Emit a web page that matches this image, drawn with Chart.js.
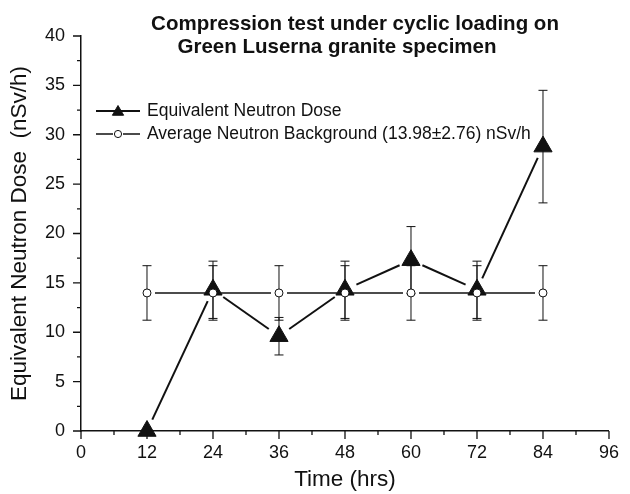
<!DOCTYPE html>
<html>
<head>
<meta charset="utf-8">
<script src="https://cdn.jsdelivr.net/npm/chart.js@4.4.1/dist/chart.umd.min.js"></script>
<style>
  html, body { margin: 0; padding: 0; background: #fff; }
  #wrap { width: 630px; height: 494px; }
</style>
</head>
<body>
<div id="wrap"><canvas id="chart"></canvas></div>
<script>
// Data
const hours = [12, 24, 36, 48, 60, 72, 84];
const doseValues = [0, 14.3, 9.6, 14.3, 17.3, 14.3, 28.8];
const doseErrors = [0, 2.9, 1.9, 2.9, 3.4, 2.9, 5.7];
const backgroundValues = [13.98, 13.98, 13.98, 13.98, 13.98, 13.98, 13.98];
const backgroundErrors = [2.76, 2.76, 2.76, 2.76, 2.76, 2.76, 2.76];
const xTicks = [0, 12, 24, 36, 48, 60, 72, 84, 96];
const yTicks = [0, 5, 10, 15, 20, 25, 30, 35, 40];
const titleLines = ['Compression test under cyclic loading on', 'Green Luserna granite specimen'];
const seriesNames = ['Equivalent Neutron Dose', 'Average Neutron Background (13.98\u00b12.76) nSv/h'];

const FONT = "'Liberation Sans', Arial, sans-serif";
const INK = '#111';

function toPoints(xs, ys) {
    return xs.map((x, i) => ({ x: x, y: ys[i] }));
}

function trianglePath(ctx, x, y, r) {
    ctx.beginPath();
    ctx.moveTo(x, y - r);
    ctx.lineTo(x + Math.sin(2 * Math.PI / 3) * r, y - Math.cos(2 * Math.PI / 3) * r);
    ctx.lineTo(x + Math.sin(4 * Math.PI / 3) * r, y - Math.cos(4 * Math.PI / 3) * r);
    ctx.closePath();
}

// error bars + Origin-style connecting lines with gaps around the symbols
const errorAndLines = {
    id: 'errorAndLines',
    beforeDatasetsDraw(chart) {
        const ctx = chart.ctx;
        const yScale = chart.scales.y;
        ctx.save();
        chart.data.datasets.forEach((ds, i) => {
            const pts = chart.getDatasetMeta(i).data;
            ctx.strokeStyle = INK;
            ctx.lineWidth = 1;
            pts.forEach((pt, j) => {
                const err = ds.errors[j];
                if (!err) return;
                const v = ds.data[j].y;
                const top = yScale.getPixelForValue(v + err);
                const bot = yScale.getPixelForValue(v - err);
                ctx.beginPath();
                ctx.moveTo(pt.x, top);
                ctx.lineTo(pt.x, bot);
                ctx.moveTo(pt.x - 4.5, top);
                ctx.lineTo(pt.x + 4.5, top);
                ctx.moveTo(pt.x - 4.5, bot);
                ctx.lineTo(pt.x + 4.5, bot);
                ctx.stroke();
            });
            ctx.lineWidth = ds.lineW;
            for (let j = 0; j < pts.length - 1; j++) {
                const a = pts[j], b = pts[j + 1];
                const dx = b.x - a.x, dy = b.y - a.y;
                const len = Math.hypot(dx, dy);
                if (len <= 2 * ds.gap) continue;
                const ux = dx / len, uy = dy / len;
                ctx.beginPath();
                ctx.moveTo(a.x + ux * ds.gap, a.y + uy * ds.gap);
                ctx.lineTo(b.x - ux * ds.gap, b.y - uy * ds.gap);
                ctx.stroke();
            }
        });
        ctx.restore();
    }
};

// outward major / minor tick marks
const tickMarks = {
    id: 'tickMarks',
    afterDraw(chart) {
        const ctx = chart.ctx;
        const xs = chart.scales.x, ys = chart.scales.y;
        const area = chart.chartArea;
        ctx.save();
        ctx.strokeStyle = INK;
        ctx.lineWidth = 1.3;
        ctx.beginPath();
        xTicks.forEach((t, i) => {
            const px = xs.getPixelForValue(t);
            ctx.moveTo(px, area.bottom);
            ctx.lineTo(px, area.bottom + 8);
            if (i < xTicks.length - 1) {
                const mx = xs.getPixelForValue((t + xTicks[i + 1]) / 2);
                ctx.moveTo(mx, area.bottom);
                ctx.lineTo(mx, area.bottom + 4);
            }
        });
        yTicks.forEach((t, i) => {
            const py = ys.getPixelForValue(t);
            ctx.moveTo(area.left, py);
            ctx.lineTo(area.left - 8, py);
            if (i < yTicks.length - 1) {
                const my = ys.getPixelForValue((t + yTicks[i + 1]) / 2);
                ctx.moveTo(area.left, my);
                ctx.lineTo(area.left - 4, my);
            }
        });
        ctx.stroke();
        ctx.restore();
    }
};

// title and in-plot legend
const titleAndLegend = {
    id: 'titleAndLegend',
    afterDraw(chart) {
        const ctx = chart.ctx;
        ctx.save();
        ctx.fillStyle = INK;
        ctx.font = 'bold 20.5px ' + FONT;
        ctx.textAlign = 'center';
        ctx.textBaseline = 'middle';
        ctx.fillText(titleLines[0], 355, 24);
        ctx.fillText(titleLines[1], 337, 47);

        const rows = [111, 134];
        chart.data.datasets.forEach((ds) => {
            const y = rows[ds.legendRow];
            ctx.strokeStyle = INK;
            ctx.lineWidth = ds.lineW;
            ctx.beginPath();
            if (ds.pointStyle === 'circle') {
                ctx.moveTo(96, y); ctx.lineTo(113, y);
                ctx.moveTo(123, y); ctx.lineTo(140, y);
            } else {
                ctx.moveTo(96, y); ctx.lineTo(140, y);
            }
            ctx.stroke();
            ctx.lineWidth = 1;
            if (ds.pointStyle === 'circle') {
                ctx.beginPath();
                ctx.arc(118, y, 3.6, 0, Math.PI * 2);
                ctx.fillStyle = '#fff';
                ctx.fill();
                ctx.stroke();
            } else {
                trianglePath(ctx, 118, y + 1, 6.5);
                ctx.fillStyle = INK;
                ctx.fill();
                ctx.stroke();
            }
            ctx.fillStyle = INK;
            ctx.font = '17.5px ' + FONT;
            ctx.textAlign = 'left';
            ctx.fillText(ds.label, 147, y);
        });
        ctx.restore();
    }
};

const ctx = document.getElementById('chart').getContext('2d');
new Chart(ctx, {
    type: 'scatter',
    data: {
        datasets: [
            {
                label: seriesNames[1],
                legendRow: 1,
                data: toPoints(hours, backgroundValues),
                errors: backgroundErrors,
                gap: 8,
                lineW: 1.5,
                showLine: false,
                pointStyle: 'circle',
                pointRadius: 4,
                pointHoverRadius: 4,
                pointBackgroundColor: '#fff',
                pointBorderColor: INK,
                pointBorderWidth: 1,
                order: 0,
                clip: false
            },
            {
                label: seriesNames[0],
                legendRow: 0,
                data: toPoints(hours, doseValues),
                errors: doseErrors,
                gap: 12.5,
                lineW: 2,
                showLine: false,
                pointStyle: 'triangle',
                pointRadius: 10.5,
                pointHoverRadius: 10.5,
                pointBackgroundColor: INK,
                pointBorderColor: INK,
                pointBorderWidth: 1,
                order: 1,
                clip: false
            }
        ]
    },
    options: {
        responsive: true,
        maintainAspectRatio: false,
        animation: false,
        events: [],
        layout: { padding: { left: 0, right: 14, top: 36, bottom: 0 } },
        plugins: {
            legend: { display: false },
            title: { display: false },
            tooltip: { enabled: false }
        },
        scales: {
            x: {
                type: 'linear',
                min: 0,
                max: 96,
                afterFit: (s) => { s.height = 63; },
                afterBuildTicks: (s) => { s.ticks = xTicks.map(v => ({ value: v })); },
                grid: { display: false, drawTicks: false },
                border: { display: true, color: INK, width: 1.5 },
                ticks: {
                    padding: 11,
                    color: INK,
                    font: { family: FONT, size: 18 },
                    maxRotation: 0
                },
                title: {
                    display: true,
                    text: 'Time (hrs)',
                    color: INK,
                    font: { family: FONT, size: 22.5 },
                    padding: { top: 0, bottom: 1 }
                }
            },
            y: {
                type: 'linear',
                min: 0,
                max: 40,
                afterFit: (s) => { s.width = 81; },
                afterBuildTicks: (s) => { s.ticks = yTicks.map(v => ({ value: v })); },
                grid: { display: false, drawTicks: false },
                border: { display: true, color: INK, width: 1.5 },
                ticks: {
                    padding: 16,
                    color: INK,
                    font: { family: FONT, size: 18 }
                },
                title: {
                    display: true,
                    text: 'Equivalent Neutron Dose  (nSv/h)',
                    color: INK,
                    font: { family: FONT, size: 22.5 },
                    padding: { top: 6, bottom: 0 }
                }
            }
        }
    },
    plugins: [errorAndLines, tickMarks, titleAndLegend]
});
</script>
</body>
</html>
